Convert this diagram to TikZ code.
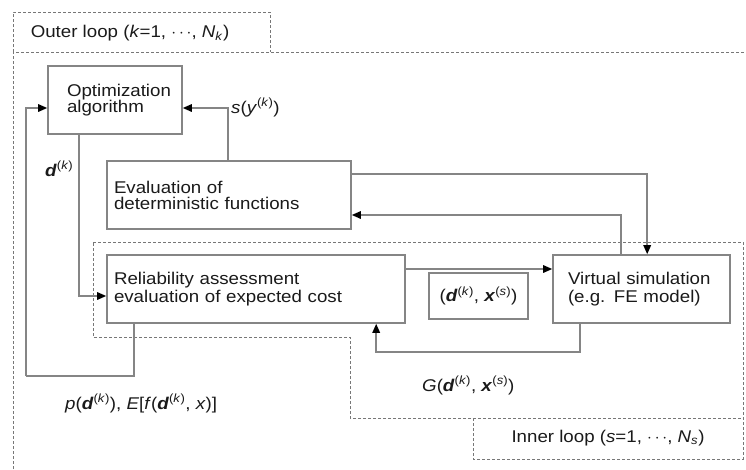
\documentclass[tikz,border=0pt]{standalone}
\usepackage{fontspec}
\setmainfont[FakeStretch=1.1]{Liberation Sans}
\usetikzlibrary{arrows.meta,calc}
\definecolor{ln}{HTML}{858585}
\definecolor{dl}{HTML}{777777}
\definecolor{tx}{HTML}{1A1A1A}
\newcommand{\bd}{\textbf{\textit{d}}}
\newcommand{\bx}{\textbf{\textit{x}}}
\newcommand{\supk}{\textsuperscript{(\textit{k})}}
\newcommand{\sups}{\textsuperscript{(\textit{s})}}
\begin{document}
\begin{tikzpicture}[x=1pt,y=-1pt,
  font=\fontsize{17}{16}\selectfont, text=tx,
  box/.style={draw=ln, line width=1.6pt, fill=white, inner sep=0pt, align=left},
  arr/.style={draw=ln, line width=1.5pt, -{Triangle[length=9pt,width=7.5pt,color=black,fill=black]}},
  conn/.style={draw=ln, line width=1.5pt},
  loopline/.style={draw=dl, line width=1pt, dash pattern=on 3pt off 2pt},
  lbl/.style={inner sep=0pt, anchor=base west}]
\useasboundingbox (0,0) rectangle (746,469);
% dashed loop frames
\draw[loopline] (13,52) -- (13,12) -- (270,12) -- (270,52);
\draw[loopline] (13,469) -- (13,52) -- (746,52);
\draw[loopline] (93,242) -- (743,242) -- (743,459) -- (473,459) -- (473,418) -- (350,418) -- (350,337) -- (93,337) -- cycle;
\draw[loopline] (473,418) -- (743,418);
\node[inner sep=0pt] (outerlbl) at (130,33) {Outer loop (\textit{k}=1, $\cdots$, \textit{N}\textsubscript{\textit{k}})};
\node[inner sep=0pt] (innerlbl) at (608,438) {Inner loop (\textit{s}=1, $\cdots$, \textit{N}\textsubscript{\textit{s}})};
% boxes
\node[box, minimum width=134pt, minimum height=68pt, text width=96pt] (opt) at (115,100) {Optimization\\algorithm};
\node[box, minimum width=244pt, minimum height=68pt, text width=230pt] (eval) at (229,195) {Evaluation of\\deterministic functions};
\node[box, minimum width=298pt, minimum height=68pt, text width=284pt, font=\fontsize{17}{18}\selectfont] (rel) at (256,289) {Reliability assessment\\evaluation of expected cost};
\node[box, minimum width=177pt, minimum height=68pt, text width=147pt, font=\fontsize{17}{18}\selectfont] (virt) at (641.5,289) {Virtual simulation\\(e.g. FE model)};
\node[box, line width=1.2pt, minimum width=99pt, minimum height=46pt, align=center] (dx) at (478.5,296) {(\bd\supk, \bx\sups)};
% connectors
\coordinate (pcorner) at (26,376);
\draw[arr] ([xshift=32pt]opt.south west) |- ([yshift=-7pt]rel.west);
\draw[arr] ([xshift=122pt]eval.north west) |- ([yshift=-8pt]opt.east);
\draw[conn] ([xshift=28pt]rel.south west) |- (pcorner);
\draw[arr] (pcorner) |- ([yshift=-8pt]opt.west);
\draw[arr] ([yshift=21pt]eval.east) -| ([xshift=95pt]virt.north west);
\draw[arr] ([xshift=69pt]virt.north west) |- ([yshift=-20pt]eval.east);
\draw[arr] ([yshift=20pt]rel.east) -- ([yshift=20pt]virt.west);
\draw[arr] ([xshift=28pt]virt.south west) -- ++(0,28) -| ([xshift=270pt]rel.south west);
% labels
\node[lbl] (dlbl) at (45,176) {\bd\supk};
\node[lbl] (slbl) at (231,113) {\textit{s}(\textit{y}\supk)};
\node[lbl] (plbl) at (65,409) {\textit{p}(\bd\supk), \textit{E}[\textit{f}(\bd\supk, \textit{x})]};
\node[lbl] (glbl) at (422,391) {\textit{G}(\bd\supk, \bx\sups)};
\end{tikzpicture}
\end{document}
